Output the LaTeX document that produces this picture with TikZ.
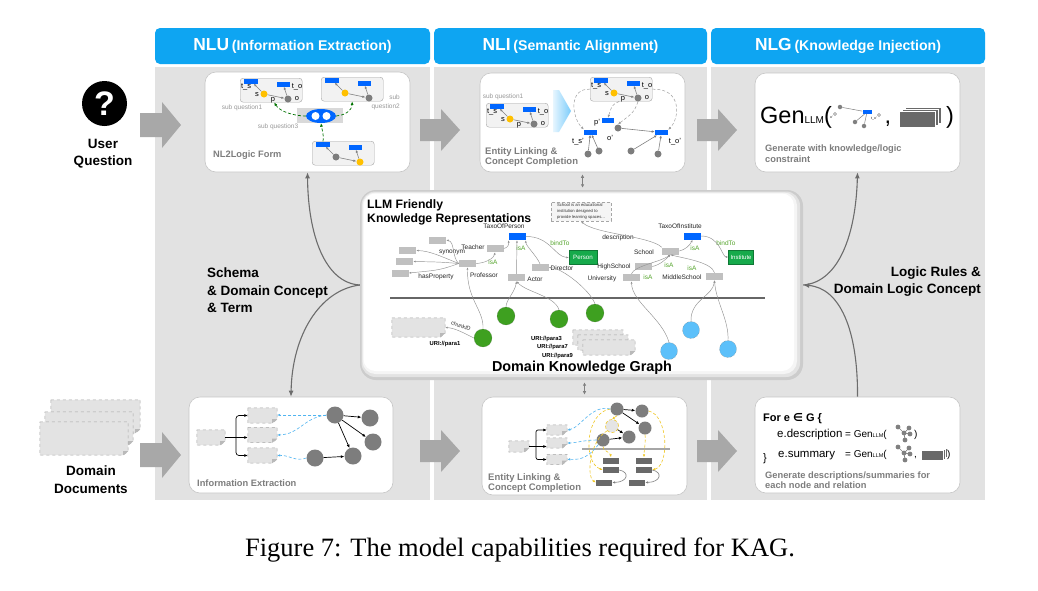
\documentclass[tikz,border=0pt]{standalone}
\usepackage{fontspec}
\setmainfont{Liberation Sans}
\newfontfamily\capfont{Liberation Serif}
\newfontfamily\dvfont{DejaVu Sans}
\usetikzlibrary{arrows.meta,shapes.geometric,calc}
\newcommand\myfs[1]{\fontsize{#1}{#1}\selectfont}
\definecolor{hblue}{RGB}{14,165,242}
\definecolor{colgray}{RGB}{226,226,226}
\definecolor{arrgray}{RGB}{168,168,168}
\definecolor{rgray}{RGB}{192,192,192}
\definecolor{nblue}{RGB}{0,102,255}
\definecolor{ngreen}{RGB}{22,170,75}
\definecolor{cgreen}{RGB}{62,160,32}
\definecolor{lblue}{RGB}{92,192,250}
\definecolor{dyel}{RGB}{255,192,0}
\definecolor{dgray}{RGB}{125,125,125}
\definecolor{tgray}{RGB}{125,125,125}
\definecolor{isag}{RGB}{85,165,45}
\definecolor{ltyel}{RGB}{240,200,40}
\definecolor{dashblue}{RGB}{80,180,240}
\definecolor{slab}{RGB}{105,105,105}
\newcommand\mydoc[5]{%
  \node[minimum width=#4pt, minimum height=#5pt, inner sep=0pt] (#1) at (#2,#3) {};
  \draw[docst] (#1.north west) -- (#1.north east) -- ([yshift=4pt]#1.south east) -- ([xshift=-5pt]#1.south east) -- (#1.south west) -- cycle;
  \fill[gray!55] ([yshift=4pt]#1.south east) -- ([xshift=-5pt]#1.south east) -- ([xshift=-5pt,yshift=4pt]#1.south east) -- cycle;
}
\tikzset{
  pics/tri/.style 2 args={code={
    \node[draw=gray!70, fill=gray!10, rounded corners=3pt, minimum width=62pt, minimum height=24pt, inner sep=0pt, anchor=north west] (-box) at (0,0) {};
    \node[brect, minimum width=14pt, minimum height=5pt] (-L) at (11,3) {};
    \node[brect, minimum width=13pt, minimum height=5pt] (-R) at (43,6) {};
    \node[dotn, fill=#1] (-a) at (24,16) {};
    \node[dotn, fill=#2] (-b) at (48,21) {};
    \draw[tarr] (-a) -- (-L);
    \draw[tarr] (-b) -- (-R);
    \draw[tarr] (-a) -- (-b);
  }},
  pics/trilab/.style={code={
    \node[tl] (-ts) at (6,9) {t\_s};
    \node[tl] (-s) at (17,17) {s};
    \node[tl] (-p) at (33,22) {p};
    \node[tl] (-to) at (57,9) {t\_o};
    \node[tl] (-o) at (57,21) {o};
  }},
  pics/mtree/.style={code={
    \draw[gray, line width=0.7pt] (-6,-6) -- (0,0) -- (5,-5) (0,0) -- (1,7) (0,0) -- (6,1);
    \fill[gray] (-6,-6) circle (2.4) (5,-5) circle (2.4) (0,0) circle (2.4) (1,7) circle (2.4) (6,1) circle (2.4);
  }},
  pics/stackic/.style={code={
    \foreach \d in {6,3,0} {\filldraw[fill=slab, draw=white, line width=0.5pt] (\d,-0.6*\d) rectangle ++(36,16);}
  }},
  pics/barrow/.style={code={\fill[arrgray] (0,-12) -- (22,-12) -- (22,-23) -- (41,0) -- (22,23) -- (22,12) -- (0,12) -- cycle;}},
  pics/barrows/.style={code={\fill[arrgray] (0,-11) -- (21,-11) -- (21,-21) -- (40,0) -- (21,21) -- (21,11) -- (0,11) -- cycle;}},
}
\begin{document}
\begin{tikzpicture}[x=1pt,y=-1pt,
  hdr/.style={fill=hblue, rounded corners=5pt, minimum width=275pt, minimum height=36pt, inner sep=0pt, text=white, font=\bfseries},
  wbox/.style={fill=white, draw=gray!45, line width=0.6pt, rounded corners=11pt, inner sep=0pt},
  grect/.style={fill=rgray, minimum width=17pt, minimum height=7pt, inner sep=0pt},
  brect/.style={fill=nblue, minimum width=17pt, minimum height=7pt, inner sep=0pt},
  gnode/.style={fill=ngreen, draw=ngreen!70!black, line width=0.3pt, text=white, font=\myfs{6.2}, minimum width=28pt, minimum height=14pt, inner sep=0pt},
  lbl/.style={font=\myfs{6.5}, text=black!85, inner sep=0pt},
  isa/.style={font=\myfs{6.5}, text=isag, inner sep=0pt},
  sq/.style={font=\myfs{6.5}, text=gray!80, inner sep=0pt},
  boxcap/.style={font=\bfseries\fontsize{9.3}{10.5}\selectfont, text=tgray, inner sep=0pt, anchor=west, align=left},
  sidelbl/.style={font=\bfseries\fontsize{13.5}{17.5}\selectfont, inner sep=0pt},
  dotn/.style={circle, inner sep=0pt, minimum size=7pt},
  tl/.style={font=\myfs{7.5}, inner sep=0pt},
  tarr/.style={draw=gray, line width=0.6pt, -{Latex[length=3pt,width=2.5pt]}},
  karr/.style={draw=gray!85, line width=0.45pt, -{Latex[length=2.5pt,width=2pt]}},
  ndash/.style={draw=gray!75, densely dashed, line width=0.5pt, -{Latex[length=3pt,width=2.5pt]}},
  gcirc/.style={circle, fill=cgreen, draw=black!60, densely dotted, line width=0.4pt, minimum size=18pt, inner sep=0pt},
  bcirc/.style={circle, fill=lblue, draw=black!50, densely dotted, line width=0.4pt, minimum size=17pt, inner sep=0pt},
  kcirc/.style={circle, fill=dgray, minimum size=17pt, inner sep=0pt},
  drect/.style={fill=slab, minimum width=16pt, minimum height=6pt, inner sep=0pt},
  docst/.style={draw=gray!70, dashed, fill=gray!22, line width=0.5pt},
  sidearr/.style={draw=gray!85!black, line width=1.1pt, -{Latex[length=6pt,width=5pt]}},
  garr/.style={draw=green!45!black, densely dashed, line width=0.7pt, -{Latex[length=3.5pt,width=3pt]}},
  barr/.style={draw=dashblue, densely dashed, line width=0.6pt, -{Latex[length=3pt,width=2.5pt]}},
  yarr/.style={draw=ltyel, densely dashed, line width=0.6pt, -{Latex[length=3pt,width=2.5pt]}},
  karr2/.style={draw=black, line width=0.7pt, -{Latex[length=3.5pt,width=3pt]}},
  dbl/.style={draw=gray, line width=0.9pt, {Latex[length=3.5pt,width=3.5pt]}-{Latex[length=3.5pt,width=3.5pt]}}
]
\useasboundingbox (0,0) rectangle (1038,590);
\fill[white] (0,0) rectangle (1038,590);

% columns and headers
\fill[colgray] (155,67) rectangle (430,500);
\fill[colgray] (434,67) rectangle (707,500);
\fill[colgray] (711,67) rectangle (985,500);
\node[hdr] (h1) at (292.5,46) {{\myfs{17.4}NLU} {\myfs{14.1}(Information Extraction)}};
\node[hdr, minimum width=273pt] (h2) at (570.5,46) {{\myfs{17.4}NLI} {\myfs{14.1}(Semantic Alignment)}};
\node[hdr, minimum width=274pt] (h3) at (848,46) {{\myfs{17.4}NLG} {\myfs{14.1}(Knowledge Injection)}};

% left inputs
\node[circle, fill=black, minimum size=45pt, inner sep=0pt, text=white, font=\bfseries\myfs{34}] (qicon) at (104.5,103.5) {?};
\node[sidelbl, align=center] (uq) at (103,153.5) {User\\Question};
\mydoc{dd1}{95.5}{416.5}{89}{33}
\mydoc{dd2}{89}{428.5}{88}{33}
\mydoc{dd3}{84}{438.5}{88}{33}
\node[sidelbl, align=center] (ddl) at (91,479.5) {Domain\\Documents};

% block arrows
\pic at (140,125) {barrow};
\pic at (140,455) {barrow};
\pic at (420,130) {barrows};
\pic at (697,130) {barrows};
\pic at (420,451) {barrows};
\pic at (697,451) {barrows};

% white boxes
\node[wbox, minimum width=205pt, minimum height=100pt] (nl2l) at (307.5,122) {};
\node[wbox, minimum width=205pt, minimum height=99pt] (elcc) at (582.5,122.5) {};
\node[wbox, minimum width=205pt, minimum height=99pt] (gen1) at (857.5,122.5) {};
\node[wbox, minimum width=204pt, minimum height=96pt] (ie) at (291,445) {};
\node[wbox, minimum width=205pt, minimum height=98pt] (elcc2) at (584.5,446) {};
\node[wbox, minimum width=205pt, minimum height=96pt] (gen2) at (857.5,445) {};

% ---------- NL2Logic form ----------
\pic (sqa) at (240,78) {tri={dyel}{dgray}};
\pic (sqal) at (240,78) {trilab};
\pic (sqb) at (321,77) {tri={dyel}{dgray}};
\pic (sqc) at (312,141) {tri={dgray}{dyel}};
\node[fill=gray!30, minimum width=46pt, minimum height=15pt, inner sep=0pt] (ellbg) at (320,115.5) {};
\node[ellipse, fill=nblue, minimum width=30pt, minimum height=14pt, inner sep=0pt] (ell) at (321,116) {};
\node[dotn, fill=white, minimum size=8pt] (w1) at (315.5,116) {};
\node[dotn, fill=white, minimum size=8pt] (w2) at (326.5,116) {};
\draw[garr] (ell.west) .. controls (295,116) and (280,112) .. ([xshift=3pt]sqa-box.south);
\draw[garr] (ell.east) .. controls (346,115) and (352,110) .. (sqb-box.south);
\draw[garr] (sqc-L.north) .. controls (324,134) and (322,130) .. (ell.south);
\node[sq] (sq1) at (242,108) {sub question1};
\node[sq, align=right, anchor=east, font=\fontsize{6.5}{9}\selectfont] (sq2) at (400,102.5) {sub\\question2};
\node[sq] (sq3) at (278,127) {sub question3};
\node[boxcap] (nlc) at (213,155) {NL2Logic Form};

% ---------- NLI top ----------
\node[sq] (nsq1) at (503,97) {sub question1};
\pic (nqa) at (486,103) {tri={dyel}{dgray}};
\pic (nqal) at (486,103) {trilab};
\shade[left color=lblue!15, right color=lblue!80] (553,90) -- (559,90) -- (571,111) -- (559,132) -- (553,132) -- cycle;
\pic (nqb) at (590,77) {tri={dyel}{dgray}};
\pic (nqbl) at (590,77) {trilab};
\node[brect, minimum width=12pt, minimum height=5pt] (pp) at (608,120.5) {};
\node[tl] (ppl) at (597,123) {p'};
\node[brect, minimum width=13pt, minimum height=5pt] (tsp) at (590.5,132) {};
\node[tl] (tspl) at (578,142) {t\_s'};
\node[dotn, fill=dgray] (op) at (618,128) {};
\node[tl] (opl) at (610,138) {o'};
\node[brect, minimum width=13pt, minimum height=5pt] (top) at (661.5,132.5) {};
\node[tl] (topl) at (675,142) {t\_o'};
\node[dotn, fill=dgray] (d1) at (588,154) {};
\node[dotn, fill=dgray] (d2) at (599,151) {};
\node[dotn, fill=dgray] (d3) at (631,151) {};
\node[dotn, fill=dgray] (d4) at (658,154) {};
\draw[tarr] (op) -- (top);
\draw[tarr] (d1) -- (tsp);
\draw[tarr] (d2) -- (tsp);
\draw[tarr] (d3) -- (top);
\draw[tarr] (d4) -- (top);
\draw[ndash] (nqb-box.west) .. controls (568,88) and (572,118) .. (tsp.north west);
\draw[ndash] (nqb-box.east) .. controls (682,88) and (680,118) .. (top.north east);
\draw[ndash] ([xshift=-2pt]nqb-box.south) .. controls (612,105) .. (pp.north);
\draw[ndash] (nqb-b.south) .. controls (634,112) .. (op.north);
\node[boxcap, font=\bfseries\fontsize{9.5}{10}\selectfont] (elc1) at (485,157) {Entity Linking \&\\Concept Completion};

% ---------- NLG top ----------
\node[anchor=base west, inner sep=0pt, font=\myfs{23.5}] (gentxt) at (760,123) {Gen{\myfs{10}LLM}(};
\node[circle, draw=gray, line width=0.4pt, minimum size=3pt, inner sep=0pt] (m1) at (835,114) {};
\node[circle, fill=gray, minimum size=4.5pt, inner sep=0pt] (m2) at (840,107) {};
\node[circle, fill=gray, minimum size=4.5pt, inner sep=0pt] (m3) at (855,122) {};
\node[circle, fill=gray, minimum size=4.5pt, inner sep=0pt] (m4) at (864,126) {};
\node[fill=nblue, minimum width=9pt, minimum height=3.5pt, inner sep=0pt] (mb) at (867,112) {};
\node[circle, draw=gray, line width=0.4pt, minimum size=3pt, inner sep=0pt] (m5) at (879,115) {};
\draw[gray, line width=0.5pt] (m2) -- (mb);
\draw[gray, line width=0.5pt] (m3) -- (mb);
\draw[gray, line width=0.5pt] (m4) -- (mb);
\node[font=\myfs{3.5}, inner sep=0pt, anchor=east] (m1l) at (833,117) {o'};
\node[font=\myfs{3.5}, inner sep=0pt, anchor=east] (m5l) at (877,118.5) {t\_o'};
\node[anchor=base, inner sep=0pt, font=\myfs{23.5}] (gcom) at (888,123) {,};
\pic at (899,111) {stackic};
\node[anchor=base, inner sep=0pt, font=\myfs{23.5}] (gpar) at (950,123) {)};
\node[boxcap, font=\bfseries\fontsize{9.3}{11}\selectfont] (genc) at (765,153.5) {Generate with knowledge/logic\\constraint};

% ---------- center knowledge box ----------
\node[fill=gray!40, rounded corners=16pt, minimum width=443pt, minimum height=190pt, inner sep=0pt] (ckg) at (581.5,285) {};
\fill[gray!22, rounded corners=14pt] (361.5,191.5) rectangle (800,377);
\fill[gray!8, rounded corners=13pt] (362.5,192.5) rectangle (797,374);
\fill[white, rounded corners=12pt] (363.5,193.5) rectangle (794,371);
\node[font=\bfseries\fontsize{12.2}{14.5}\selectfont, align=left, anchor=north west, inner sep=0pt] (llmt) at (367,199) {LLM Friendly\\Knowledge Representations};
\draw[gray!80!black, line width=1.1pt] (390,298) -- (765,298);
\node[font=\bfseries\myfs{14.4}, inner sep=0pt] (dkg) at (582,368) {Domain Knowledge Graph};

\node[brect] (taxP) at (517,236.5) {};
\node[lbl] (taxPl) at (504,226) {TaxoOfPerson};
\node[grect] (teacher) at (495,248.5) {};
\node[lbl] (teacherl) at (473,247) {Teacher};
\node[grect] (prof) at (467.5,263.5) {};
\node[lbl] (profl) at (484,275) {Professor};
\node[grect] (dir) at (540,267.5) {};
\node[lbl] (dirl) at (562,268.5) {Director};
\node[grect] (actor) at (516.5,277.5) {};
\node[lbl] (actorl) at (535,279) {Actor};
\node[grect] (la) at (437.5,240) {};
\node[grect] (lb) at (407.5,250.5) {};
\node[grect] (lc) at (404.5,261.5) {};
\node[grect] (ld) at (400,273) {};
\node[lbl] (syn) at (452,252.5) {synonym};
\node[lbl] (hasp) at (436,277) {hasProperty};
\node[gnode] (person) at (583,257.5) {Person};
\node[isa] (isa1) at (521,248) {isA};
\node[isa] (isa2) at (493,262) {isA};
\node[isa] (bt1) at (560,243) {bindTo};
\draw[karr] (prof.east) .. controls (486,263) and (494,258) .. (teacher.south);
\draw[karr] (teacher.east) .. controls (508,248) and (509,244) .. (taxP.south west);
\draw[karr] (actor) -- (taxP);
\draw[karr] (dir.north) .. controls (536,255) and (526,246) .. (taxP.south east);
\draw[karr] (prof.west) .. controls (452,258) and (455,242) .. (la.east);
\draw[karr] (prof.west) .. controls (440,256) and (430,251) .. (lb.east);
\draw[karr] (prof.west) .. controls (440,262) .. (lc.east);
\draw[karr] (prof.west) .. controls (440,270) .. (ld.east);
\draw[karr] (taxP.east) .. controls (550,236) and (555,257) .. (person.west);

\node[brect] (taxI) at (692.5,236) {};
\node[lbl] (taxIl) at (680,226) {TaxoOfInstitute};
\node[grect] (school) at (670.5,251) {};
\node[lbl] (schooll) at (644,252) {School};
\node[grect] (hs) at (643.5,266.5) {};
\node[lbl] (hsl) at (614,267) {HighSchool};
\node[grect] (univ) at (631.5,277.5) {};
\node[lbl] (univl) at (602,279) {University};
\node[grect] (mid) at (714.5,276.5) {};
\node[lbl] (midl) at (682,277) {MiddleSchool};
\node[gnode, minimum width=25pt, font=\myfs{6}] (inst) at (741,257) {Institute};
\node[isa] (isa3) at (695,248) {isA};
\node[isa] (isa4) at (669,265) {isA};
\node[isa] (isa5) at (692,268) {isA};
\node[isa] (isa6) at (648,277) {isA};
\node[isa] (bt2) at (726,243) {bindTo};
\node[draw=gray!70, densely dashed, fill=gray!8, minimum width=60pt, minimum height=19pt, inner sep=1pt, font=\fontsize{4.2}{5.8}\selectfont, align=left, text=black!80] (note) at (581,211.5) {School is an educational\\institution designed to\\provide learning spaces...};
\node[lbl] (descl) at (618,238) {description};
\draw[karr] (school.east) .. controls (685,250) and (690,245) .. (taxI.south);
\draw[karr] (taxI.east) .. controls (720,236) and (722,257) .. (inst.west);
\draw[karr] (hs.east) .. controls (660,265) and (666,259) .. (school.south);
\draw[karr] (univ.north) .. controls (634,266) and (660,262) .. (school.south);
\draw[karr] (mid.north) .. controls (712,262) and (682,258) .. (school.south);
\draw[karr] (school.north west) .. controls (650,236) and (595,234) .. (note.south);

\mydoc{chunk}{418.5}{327.5}{53}{19}
\node[gcirc] (g1) at (483,338) {};
\node[gcirc] (g2) at (506,316) {};
\node[gcirc] (g3) at (559,319) {};
\node[gcirc] (g4) at (595,313) {};
\node[bcirc] (b1) at (691,330) {};
\node[bcirc] (b2) at (669,351) {};
\node[bcirc] (b3) at (728,349) {};
\mydoc{st1}{598}{337.5}{50}{15}
\mydoc{st2}{603}{342.5}{50}{15}
\mydoc{st3}{609}{347.5}{52}{15}
\node[font=\bfseries\myfs{5.8}, inner sep=0pt] (uri1) at (445,344) {URI://para1};
\node[font=\bfseries\myfs{5.8}, inner sep=0pt, anchor=east] (uri3) at (562,339) {URI://para3};
\node[font=\bfseries\myfs{5.8}, inner sep=0pt, anchor=east] (uri7) at (568,347) {URI://para7};
\node[font=\bfseries\myfs{5.8}, inner sep=0pt, anchor=east] (uri9) at (573,356) {URI://para9};
\node[lbl, rotate=-18, font=\myfs{5.5}] (chid) at (461,326) {chunkID};
\draw[karr] (g1.north) .. controls (484,310) and (467,300) .. (prof.south);
\draw[karr] (g1.west) .. controls (466,334) and (455,328) .. (chunk.east);
\draw[karr] (g2.north) .. controls (506,300) and (515,292) .. (actor.south);
\draw[karr] (g3.north) .. controls (555,296) and (526,292) .. (actor.south);
\draw[karr] (g4.north) .. controls (590,290) and (562,268) .. (dir.east);
\draw[karr] (b1.north) .. controls (690,300) and (713,296) .. (mid.south);
\draw[karr] (b2.north) .. controls (662,318) and (632,302) .. (univ.south);
\draw[karr] (b3.north) .. controls (729,320) and (716,302) .. (mid.south);

% double arrows
\draw[dbl] ([yshift=-2pt]elcc.south) -- ([yshift=2pt]elcc.south |- ckg.north);
\draw[dbl] ([yshift=-2pt]elcc2.north |- ckg.south) -- ([yshift=2pt]elcc2.north);

% side curves and labels
\draw[sidearr] (ckg.west) .. controls (325,283) and (308,235) .. (nl2l.south);
\draw[sidearr] (ckg.west) .. controls (320,290) and (292,335) .. (ie.north);
\draw[sidearr] (gen2.north) .. controls (858,330) and (840,288) .. (ckg.east);
\draw[sidearr] (ckg.east) .. controls (840,282) and (856,232) .. (gen1.south);
\node[sidelbl, align=left, anchor=west] (schema) at (207,290.5) {Schema\\\& Domain Concept\\\& Term};
\node[sidelbl, align=right, anchor=east] (logic) at (981,281.5) {Logic Rules \&\\Domain Logic Concept};

% ---------- Information extraction (bottom left) ----------
\mydoc{src}{211}{437.5}{28}{15}
\mydoc{e1}{262.5}{415.5}{29}{15}
\mydoc{e2}{262.5}{435}{29}{15}
\mydoc{e3}{262.5}{455.5}{29}{15}
\coordinate (fk) at (236,437.5);
\draw[karr2] (src.east) -- (src.east -| e2.west);
\draw[karr2, rounded corners=3pt] (fk) |- (e1.west);
\draw[karr2, rounded corners=3pt] (fk) |- (e3.west);
\node[kcirc] (c1) at (335,415) {};
\node[kcirc] (c2) at (370,418) {};
\node[kcirc] (c3) at (373,442) {};
\node[kcirc] (c4) at (353,456) {};
\node[kcirc] (c5) at (315,458) {};
\draw[karr2] (c1) -- (c2);
\draw[karr2] (c1) -- (c3);
\draw[karr2] (c1) -- (c4);
\draw[karr2] (c5) -- (c4);
\draw[barr] (c1) -- (c1 -| e1.east);
\draw[barr] (c1.west) .. controls (303,418) and (300,434) .. (e2.east);
\draw[barr] (c5.west) .. controls (295,462) and (290,455) .. (e3.east);
\node[boxcap] (iec) at (197,483) {Information Extraction};

% ---------- Entity linking (bottom middle) ----------
\mydoc{src2}{519}{446.5}{20}{11}
\mydoc{f1}{557}{430}{20}{10}
\mydoc{f2}{557}{443}{20}{10}
\mydoc{f3}{557}{459.5}{20}{10}
\coordinate (fk2) at (536,446.5);
\draw[karr2] (src2.east) -- (src2.east -| f2.west);
\draw[karr2, rounded corners=2pt] (fk2) |- (f1.west);
\draw[karr2, rounded corners=2pt] (fk2) |- (f3.west);
\node[kcirc, minimum size=13pt] (k1) at (617,409) {};
\node[kcirc, minimum size=13pt] (k2) at (642,411) {};
\node[kcirc, minimum size=13pt] (k3) at (645,428) {};
\node[kcirc, minimum size=13pt] (k4) at (629,437) {};
\node[kcirc, minimum size=13pt] (k5) at (603,440) {};
\node[circle, minimum size=13pt, inner sep=0pt, fill=gray!20, draw=ltyel, densely dashed, line width=0.6pt] (k6) at (612,426) {};
\draw[karr2] (k1) -- (k2);
\draw[karr2] (k1) -- (k3);
\draw[karr2] (k6) -- (k4);
\draw[karr2] (k5) -- (k4);
\draw[gray!70, line width=2pt] (582,449) -- (670,449);
\node[drect] (r1) at (611,460.5) {};
\node[drect] (r2) at (611,470) {};
\node[drect] (r3) at (604,482.5) {};
\node[drect] (r4) at (644,460.5) {};
\node[drect] (r5) at (644,470) {};
\node[drect] (r6) at (637,482.5) {};
\draw[yarr] (k1.south) -- (k6.north);
\draw[yarr] (k1.west) .. controls (586,412) and (582,462) .. (r2.west);
\draw[yarr] (k5.south) .. controls (603,451) and (610,452) .. (r1.north);
\draw[yarr] (k2.east) .. controls (668,415) and (670,465) .. (r5.east);
\draw[yarr] (k3.south) .. controls (646,441) and (644,451) .. (r4.north);
\draw[yarr] (k6.south west) .. controls (590,440) and (586,476) .. (r3.west);
\draw[barr] (k1.west) .. controls (592,404) and (580,428) .. (f1.east);
\draw[barr] (k5.west) .. controls (585,440) and (575,443) .. (f2.east);
\draw[barr] (k5.south west) .. controls (585,462) and (575,459) .. (f3.east);
\draw[tarr] (r2.east) .. controls (630,472) and (628,482) .. (r3.east);
\draw[tarr] (r5.east) .. controls (663,472) and (661,482) .. (r6.east);
\node[boxcap, font=\bfseries\fontsize{9.5}{10}\selectfont] (elc2) at (488,483) {Entity Linking \&\\Concept Completion};

% ---------- Generation (bottom right) ----------
\node[anchor=base west, inner sep=0pt, font=\bfseries\myfs{11}] (fore) at (763,421) {For e {\dvfont\bfseries ∈} G \{};
\node[anchor=base west, inner sep=0pt, font=\myfs{11.5}] (edesc) at (777,437) {e.description};
\node[anchor=base west, inner sep=0pt, font=\myfs{10}] (eq1) at (845,437) {= Gen{\myfs{5.5}LLM}(};
\pic at (904,433) {mtree};
\node[anchor=base west, inner sep=0pt, font=\myfs{10}] (cp1) at (914,437) {)};
\node[anchor=base west, inner sep=0pt, font=\myfs{11}] (clb) at (763,461) {\}};
\node[anchor=base west, inner sep=0pt, font=\myfs{11.5}] (esum) at (778,457) {e.summary};
\node[anchor=base west, inner sep=0pt, font=\myfs{10}] (eq2) at (845,457) {= Gen{\myfs{5.5}LLM}(};
\pic at (904,453) {mtree};
\node[anchor=base west, inner sep=0pt, font=\myfs{10}] (cm2) at (914,457) {,};
\pic[scale=0.62] at (921,450) {stackic};
\node[anchor=base west, inner sep=0pt, font=\myfs{10}] (cp2) at (947,457) {)};
\node[boxcap, font=\bfseries\fontsize{9.3}{10.5}\selectfont] (genc2) at (765,480) {Generate descriptions/summaries for\\each node and relation};

% caption
\node[font=\capfont\myfs{26.5}, anchor=base, inner sep=0pt] (capt) at (520,556) {Figure 7: The model capabilities required for KAG.};
\end{tikzpicture}
\end{document}
